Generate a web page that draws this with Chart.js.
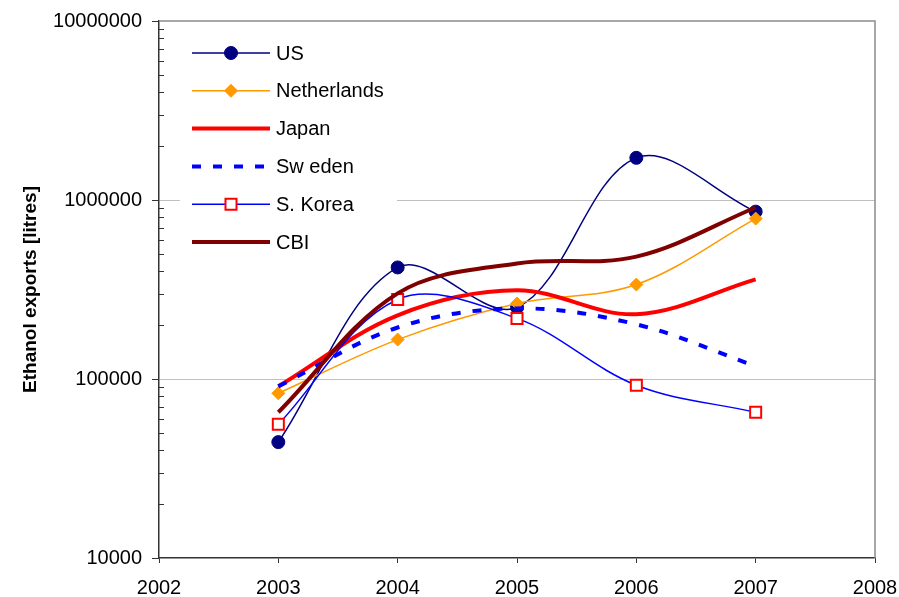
<!DOCTYPE html>
<html>
<head>
<meta charset="utf-8">
<title>Ethanol exports</title>
<script src="https://cdn.jsdelivr.net/npm/chart.js@4/dist/chart.umd.min.js"></script>
<style>
  html, body { margin: 0; padding: 0; background: #fff; }
  #wrap { width: 899px; height: 597px; }
</style>
</head>
<body>
<div id="wrap"><canvas id="c" width="899" height="597"></canvas></div>
<script>
// Export volumes (litres) per exporter, one value per year
const years = [2003, 2004, 2005, 2006, 2007];
const us          = [44400, 420000, 251000, 1720000, 861000];
const netherlands = [83200, 166000, 264000, 337000, 787000];
const japan       = [91000, 227000, 313000, 230000, 360000];
const sweden      = [91000, 194000, 248000, 202000, 118000];
const sKorea      = [55800, 278000, 218000, 92300, 65200];
const cbi         = [65200, 301000, 442000, 483000, 908000];

const seriesNames = ['US', 'Netherlands', 'Japan', 'Sw eden', 'S. Korea', 'CBI'];
const yTicks = [10000, 100000, 1000000, 10000000];
const xMin = 2002, xMax = 2008;

const AXIS = '#333333';
const FONT = 'Liberation Sans, Arial, sans-serif';

function pts(values) {
  return years.map((x, i) => ({ x: x, y: values[i] }));
}

const datasets = [
  { label: seriesNames[0], data: pts(us), borderColor: '#000080', borderWidth: 1.5,
    pointStyle: 'circle', pointRadius: 6.5, pointBackgroundColor: '#000080', pointBorderColor: '#000080', pointBorderWidth: 1, order: 6 },
  { label: seriesNames[1], data: pts(netherlands), borderColor: '#FF9900', borderWidth: 1.5,
    pointStyle: 'rectRot', pointRadius: 6.5, pointBackgroundColor: '#FF9900', pointBorderColor: '#FF9900', pointBorderWidth: 1, order: 5 },
  { label: seriesNames[2], data: pts(japan), borderColor: '#FF0000', borderWidth: 4,
    pointRadius: 0, order: 4 },
  { label: seriesNames[3], data: pts(sweden), borderColor: '#0000FF', borderWidth: 4, borderDash: [9, 12],
    pointRadius: 0, order: 3 },
  { label: seriesNames[4], data: pts(sKorea), borderColor: '#0000FF', borderWidth: 1.5,
    pointStyle: 'rect', pointRadius: 7.8, pointBackgroundColor: '#FFFFFF', pointBorderColor: '#FF0000', pointBorderWidth: 2, order: 2 },
  { label: seriesNames[5], data: pts(cbi), borderColor: '#800000', borderWidth: 4,
    pointRadius: 0, order: 1 }
];

function drawMarker(ctx, style, x, y, r, fill, stroke, lw) {
  ctx.save();
  ctx.fillStyle = fill;
  ctx.strokeStyle = stroke;
  ctx.lineWidth = lw;
  ctx.setLineDash([]);
  ctx.beginPath();
  if (style === 'circle') {
    ctx.arc(x, y, r, 0, Math.PI * 2);
  } else if (style === 'rectRot') {
    ctx.moveTo(x - r, y); ctx.lineTo(x, y - r); ctx.lineTo(x + r, y); ctx.lineTo(x, y + r); ctx.closePath();
  } else if (style === 'rect') {
    const s = r * Math.SQRT1_2;
    ctx.rect(x - s, y - s, 2 * s, 2 * s);
  }
  ctx.fill();
  ctx.stroke();
  ctx.restore();
}

// Minor log ticks, plot frame and the in-plot legend
const framePlugin = {
  id: 'framePlugin',
  beforeDatasetsDraw(chart) {
    const { ctx, chartArea: a } = chart;
    const y = chart.scales.y;
    ctx.save();

    ctx.strokeStyle = AXIS;
    ctx.lineWidth = 1;
    for (let e = 4; e < 7; e++) {
      for (let m = 2; m <= 9; m++) {
        const py = Math.round(y.getPixelForValue(m * Math.pow(10, e))) + 0.5;
        ctx.beginPath();
        ctx.moveTo(a.left, py);
        ctx.lineTo(a.left + 5, py);
        ctx.stroke();
      }
    }

    ctx.strokeStyle = '#8c8c8c';
    ctx.lineWidth = 1.5;
    ctx.beginPath();
    ctx.moveTo(a.left, a.top);
    ctx.lineTo(a.right, a.top);
    ctx.lineTo(a.right, a.bottom);
    ctx.stroke();

    // legend
    const lx = a.left + 21, ly = a.top + 11;
    ctx.fillStyle = '#ffffff';
    ctx.fillRect(lx, ly, 217, 228);
    const x0 = a.left + 33, x1 = a.left + 111, xm = (x0 + x1) / 2, tx = a.left + 117;
    chart.data.datasets.forEach((ds, i) => {
      const ry = a.top + 32 + i * 37.8;
      ctx.save();
      ctx.strokeStyle = ds.borderColor;
      ctx.lineWidth = ds.borderWidth;
      ctx.setLineDash(ds.borderDash || []);
      ctx.beginPath();
      ctx.moveTo(x0, ry);
      ctx.lineTo(x1, ry);
      ctx.stroke();
      ctx.restore();
      if (ds.pointRadius > 0) {
        drawMarker(ctx, ds.pointStyle, xm, ry, ds.pointRadius, ds.pointBackgroundColor, ds.pointBorderColor, ds.pointBorderWidth);
      }
      ctx.fillStyle = '#000000';
      ctx.font = '20px ' + FONT;
      ctx.textBaseline = 'middle';
      ctx.textAlign = 'left';
      ctx.fillText(ds.label, tx, ry + 1);
    });
    ctx.restore();
  }
};

new Chart(document.getElementById('c'), {
  type: 'line',
  data: { datasets: datasets },
  options: {
    responsive: false,
    animation: false,
    devicePixelRatio: 1,
    layout: { padding: { top: 21, right: 24, left: 0, bottom: 0 } },
    elements: {
      line: { tension: 0.35, fill: false, borderCapStyle: 'butt' },
      point: { hoverRadius: 6 }
    },
    plugins: {
      legend: { display: false },
      tooltip: { enabled: false }
    },
    scales: {
      x: {
        type: 'linear',
        min: xMin,
        max: xMax,
        afterFit(scale) {
          scale.height = 39;
          scale.paddingLeft = 0;
          scale.paddingRight = 0;
        },
        ticks: {
          stepSize: 1,
          color: '#000000',
          font: { family: FONT, size: 20 },
          padding: 13,
          callback: (v) => String(v)
        },
        grid: { drawOnChartArea: false, drawTicks: true, tickLength: 5, tickColor: AXIS },
        border: { display: true, color: AXIS, width: 1.5 }
      },
      y: {
        type: 'logarithmic',
        min: yTicks[0],
        max: yTicks[yTicks.length - 1],
        afterFit(scale) {
          scale.width = 159;
          scale.paddingTop = 0;
          scale.paddingBottom = 0;
        },
        afterBuildTicks(scale) {
          scale.ticks = yTicks.map(v => ({ value: v, major: true }));
        },
        ticks: {
          color: '#000000',
          font: { family: FONT, size: 20 },
          padding: 10,
          autoSkip: false,
          callback: (v) => String(v)
        },
        grid: {
          color: (c) => (c.tick && (c.tick.value === 100000 || c.tick.value === 1000000)) ? '#c0c0c0' : 'rgba(0,0,0,0)',
          lineWidth: 1,
          tickLength: 7,
          tickColor: AXIS
        },
        border: { display: true, color: AXIS, width: 1.5 },
        title: {
          display: true,
          text: 'Ethanol exports [litres]',
          color: '#000000',
          font: { family: FONT, size: 19, weight: 'bold' },
          padding: { top: 19, bottom: 0 }
        }
      }
    }
  },
  plugins: [framePlugin]
});
</script>
</body>
</html>
